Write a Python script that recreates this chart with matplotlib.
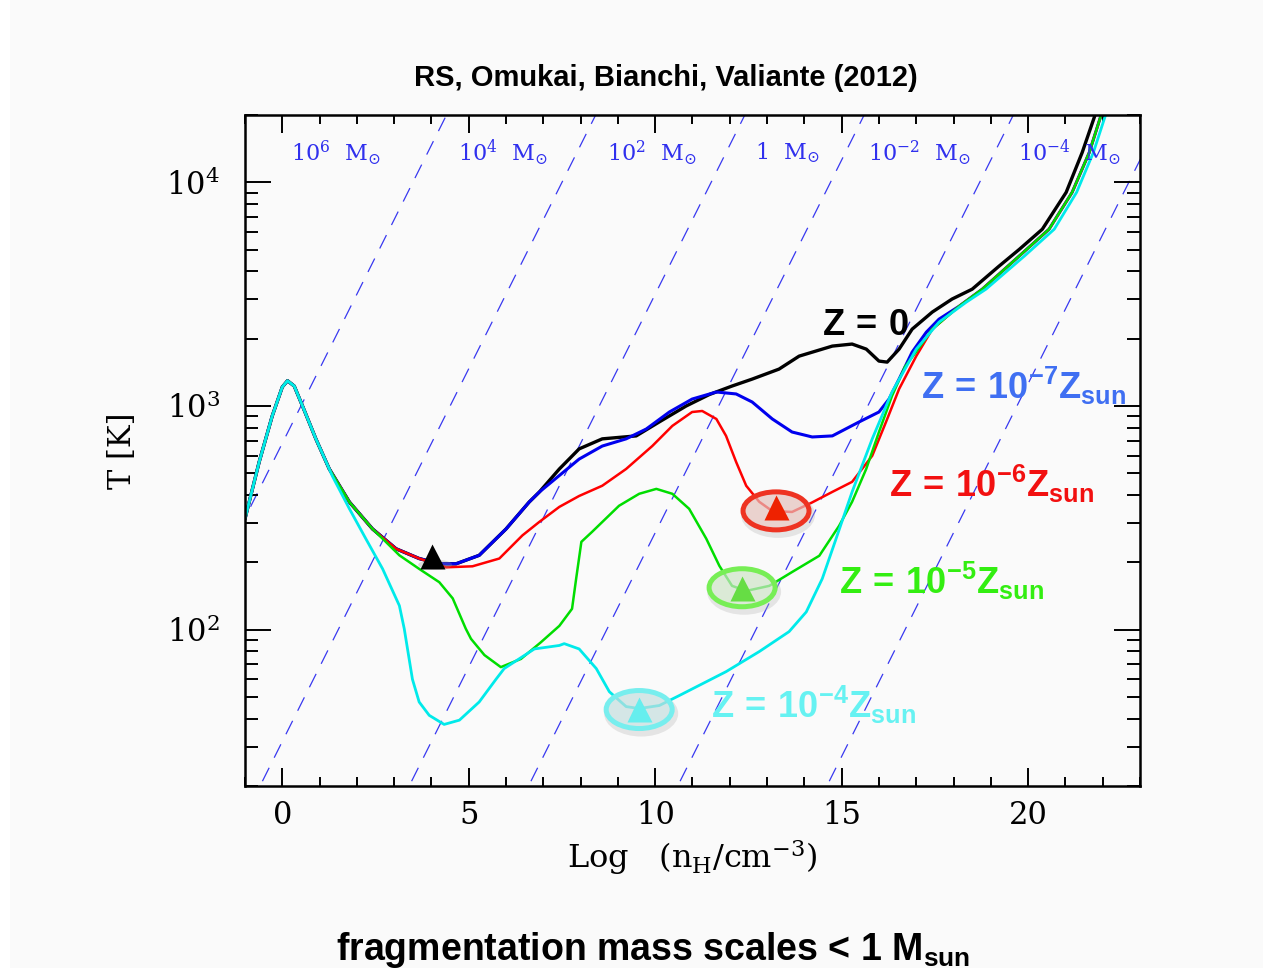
import numpy as np
import matplotlib
matplotlib.use('Agg')
import matplotlib.pyplot as plt
from matplotlib.patches import Ellipse, Rectangle
from matplotlib import transforms
from matplotlib.ticker import MultipleLocator, LogLocator, NullFormatter

# ---------------- data ----------------
# shared early part of all tracks: log n_H and T [K]
shared_logn = [-1.0, -0.62, -0.27, 0.0, 0.14, 0.32, 0.54, 0.90, 1.26]
shared_T = [313, 562, 902, 1216, 1297, 1228, 1002, 713, 523]

# branch followed by Z=0, 1e-7, 1e-6 down to the first minimum
main_logn = [1.80, 2.42, 3.05, 3.67]
main_T = [372, 282, 230, 208]

# Z = 0 (black)
z0_logn = [4.21, 4.66, 5.28, 6.0, 6.62, 6.89, 7.43, 7.96, 8.58, 9.49, 10.11, 10.83, 11.45,
           12.06, 12.6, 13.32, 13.86, 14.75, 15.28, 15.66, 16.0, 16.22, 16.54, 16.89, 17.43,
           17.96, 18.5, 19.22, 19.76, 20.38, 21.02, 21.45, 21.82]
z0_T = [197, 197, 215, 282, 372, 412, 523, 643, 713, 735, 849, 1000, 1125,
        1228, 1319, 1462, 1671, 1853, 1892, 1796, 1588, 1571, 1796, 2206, 2630,
        3007, 3329, 4220, 5010, 6170, 9020, 13600, 20560]

# Z = 1e-7 Zsun (blue)
z7_logn = [4.21, 4.66, 5.28, 6.0, 6.62, 6.89, 7.43, 7.96, 8.58, 9.22, 9.76, 10.38, 10.99,
           11.64, 12.17, 12.6, 13.14, 13.67, 14.21, 14.75, 15.47, 16.0, 16.27, 16.54, 16.89,
           17.27, 17.61, 18.15, 18.77, 19.76, 20.56, 21.18, 21.64, 21.98]
z7_T = [197, 197, 215, 282, 372, 412, 489, 579, 662, 713, 789, 940, 1074,
        1155, 1132, 1042, 875, 765, 727, 735, 849, 940, 1074, 1319, 1742,
        2138, 2445, 2793, 3329, 4680, 6170, 9020, 13600, 20560]

# Z = 1e-6 Zsun (red)
z6_logn = [4.39, 5.10, 5.82, 6.44, 6.89, 7.43, 7.96, 8.58, 9.22, 9.92, 10.46, 10.99, 11.26,
           11.64, 11.9, 12.17, 12.44, 12.79, 13.14, 13.67, 14.2, 14.75, 15.28, 15.82, 16.19,
           16.54, 17.0, 17.43, 18.15, 18.77, 19.76, 20.56, 21.18, 21.64, 21.98]
z6_T = [190, 192, 208, 264, 303, 354, 396, 440, 523, 662, 815, 940, 950,
        875, 735, 562, 440, 373, 339, 336, 370, 413, 458, 599, 849,
        1191, 1671, 2206, 2793, 3329, 4680, 6170, 9020, 13600, 20560]

# Z = 1e-5 Zsun (green)
z5_logn = [1.80, 2.42, 2.6, 3.14, 3.67, 4.21, 4.57, 4.92, 5.06, 5.42, 5.86, 6.4, 6.94, 7.43,
           7.77, 7.88, 8.02, 8.31, 9.03, 9.57, 10.03, 10.46, 10.91, 11.37, 11.72, 12.06,
           12.44, 13.06, 13.67, 14.4, 14.93, 15.28, 15.66, 16.0, 16.35, 16.7, 17.0, 17.43,
           18.15, 18.77, 19.76, 20.56, 21.18, 21.64, 21.98]
z5_T = [372, 282, 264, 215, 187, 163, 138, 101, 91, 77, 68, 74, 88, 104,
        124, 169, 247, 274, 358, 405, 426, 405, 347, 255, 193, 157,
        149, 157, 181, 214, 291, 373, 524, 765, 1109, 1500, 1750, 2206,
        2793, 3329, 4680, 6170, 9020, 13600, 20560]

# Z = 1e-4 Zsun (cyan)
z4_logn = [1.34, 1.80, 2.24, 2.69, 3.14, 3.27, 3.49, 3.67, 3.94, 4.34, 4.75, 5.28, 5.73, 5.95,
           6.76, 7.43, 7.56, 7.96, 8.42, 8.77, 9.22, 9.57, 10.11, 10.64, 11.9, 12.79, 13.59,
           14.05, 14.48, 14.85, 15.28, 15.82, 16.35, 17.0, 17.61, 18.34, 18.87, 19.9, 20.7,
           21.3, 21.75, 22.1]
z4_T = [487, 347, 255, 187, 128, 101, 60, 47.5, 41.4, 37.7, 39.4, 47.5, 60, 67,
        82, 85, 86.6, 82, 67, 52.8, 45.3, 44.4, 45.8, 50.7, 64.9, 79.8, 98,
        120, 169, 255, 413, 713, 1155, 1796, 2371, 2911, 3329, 4680, 6170,
        9020, 13600, 20560]

# fragmentation markers (log n, T)
frag_logn = [4.02, 13.24, 12.33, 9.57]
frag_T = [214, 354, 154, 44.4]
frag_ring = [False, True, True, True]

# constant Jeans-mass lines: log n where each line crosses T = 100 K
jeans_logn_at_100K = [-2.5, 1.5, 5.5, 8.7, 12.7, 16.7]
jeans_labels = [r'$10^{6}\ \ \mathrm{M}_{\odot}$', r'$10^{4}\ \ \mathrm{M}_{\odot}$',
                r'$10^{2}\ \ \mathrm{M}_{\odot}$', r'$1\ \ \mathrm{M}_{\odot}$',
                r'$10^{-2}\ \ \mathrm{M}_{\odot}$', r'$10^{-4}\ \ \mathrm{M}_{\odot}$']
jeans_label_logn = [1.42, 5.91, 9.91, 13.53, 17.08, 21.1]

track_labels = [r'$\mathbf{Z\,=\,0}$', r'$\mathbf{Z\,=\,10^{-7}Z_{sun}}$',
                r'$\mathbf{Z\,=\,10^{-6}Z_{sun}}$', r'$\mathbf{Z\,=\,10^{-5}Z_{sun}}$',
                r'$\mathbf{Z\,=\,10^{-4}Z_{sun}}$']
track_label_logn = [14.48, 17.13, 16.27, 14.93, 11.5]
track_label_T = [2075, 1074, 393, 145, 40.1]

# ---------------- styling ----------------
plt.rcParams['font.family'] = ['DejaVu Serif']
plt.rcParams['mathtext.fontset'] = 'dejavuserif'
for k in ('rm', 'it', 'bf', 'sf'):
    plt.rcParams['mathtext.' + k] = 'Liberation Sans:bold'

fig = plt.figure(figsize=(12.63, 9.68), dpi=100, facecolor='#fafafa')
fig.patches.append(Rectangle((0, 0), 10 / 1263, 1, transform=fig.transFigure,
                             facecolor='white', edgecolor='none', zorder=0))
ax = fig.add_axes([245 / 1263, 1 - 786 / 968, 895 / 1263, 671 / 968])
ax.set_facecolor('#fafafa')
ax.set_yscale('log')
ax.set_xlim(-1, 23)
ax.set_ylim(20, 2e4)

# Jeans lines
nn = np.array([-4.0, 26.0])
for x100 in jeans_logn_at_100K:
    ax.plot(nn, 10 ** (2 + (nn - x100) / 3.0), color='#3838f0', lw=0.9,
            ls=(0, (12, 9)), zorder=1)
for lab, xl in zip(jeans_labels, jeans_label_logn):
    ax.text(xl, 13600, lab, color='#3030ee', fontsize=16, ha='center', va='center',
            zorder=3)

def track(a_n, a_T, *parts):
    n = list(a_n); T = list(a_T)
    for pn, pT in parts:
        n += list(pn); T += list(pT)
    return n, T

tracks = [
    (track(shared_logn, shared_T, (main_logn, main_T), (z0_logn, z0_T)), '#000000', 2.4),
    (track(shared_logn, shared_T, (main_logn, main_T), (z7_logn, z7_T)), '#0000ee', 2.2),
    (track(shared_logn, shared_T, (main_logn, main_T), (z6_logn, z6_T)), '#ff0000', 1.8),
    (track(shared_logn, shared_T, (z5_logn, z5_T)), '#00dd00', 1.8),
    (track(shared_logn, shared_T, (z4_logn, z4_T)), '#00eaea', 2.0),
]
for (n, T), c, lw in tracks:
    ax.plot(n, T, color=c, lw=lw, solid_joinstyle='round', solid_capstyle='round', zorder=2)

# rings + triangles
ring_edge = [None, '#ee3322', '#77ee55', '#77eeee']
ring_fill = [None, '#f0c4bc', '#d4f0cc', '#c8e8e8']
ring_dy = [0, -0.04, 0, -0.01]
tri_col = ['#000000', '#ee2200', '#66dd44', '#66eeee']
for xn, T, ring, ec, fc, tc, dy in zip(frag_logn, frag_T, frag_ring, ring_edge, ring_fill,
                                       tri_col, ring_dy):
    base = transforms.ScaledTranslation(xn, T, ax.transData)
    if ring:
        sh = fig.dpi_scale_trans + transforms.ScaledTranslation(0.02, -0.04, fig.dpi_scale_trans) + base
        ax.add_patch(Ellipse((0, dy), 0.74, 0.46, transform=sh, facecolor='#bbbbbb',
                             edgecolor='none', alpha=0.35, zorder=3))
        tr = fig.dpi_scale_trans + base
        ax.add_patch(Ellipse((0, dy), 0.66, 0.38, transform=tr, facecolor=fc,
                             edgecolor='none', alpha=0.55, zorder=3.1))
        ax.add_patch(Ellipse((0, dy), 0.66, 0.38, transform=tr, facecolor='none',
                             edgecolor=ec, lw=3.6, zorder=3.2))
    else:
        sh = fig.dpi_scale_trans + transforms.ScaledTranslation(0.03, -0.09, fig.dpi_scale_trans) + base
        ax.add_patch(Ellipse((0, 0), 0.34, 0.1, transform=sh, facecolor='#999999',
                             edgecolor='none', alpha=0.3, zorder=3))
    ax.plot([xn], [T], marker='^', ms=18, color=tc, mec='none', zorder=4)

label_cols = ['#000000', '#3f6ff2', '#f21010', '#33ee11', '#66f2f2']
for lab, xl, yl, c in zip(track_labels, track_label_logn, track_label_T, label_cols):
    t = ax.text(xl, yl, lab, color=c, fontsize=26, ha='left', va='baseline', zorder=5)
    t.set_math_fontfamily('custom')

# axes styling
for s in ax.spines.values():
    s.set_linewidth(1.8)
ax.xaxis.set_major_locator(MultipleLocator(5))
ax.xaxis.set_minor_locator(MultipleLocator(1))
ax.yaxis.set_major_locator(LogLocator(base=10, numticks=10))
ax.yaxis.set_minor_locator(LogLocator(base=10, subs=np.arange(2, 10), numticks=20))
ax.yaxis.set_minor_formatter(NullFormatter())
ax.tick_params(axis='both', which='both', direction='in', top=True, right=True, width=1.4)
ax.tick_params(axis='x', which='major', length=13, labelsize=22, pad=10)
ax.tick_params(axis='x', which='minor', length=6.5)
ax.tick_params(axis='y', which='major', length=19, labelsize=22, pad=18)
ax.tick_params(axis='y', which='minor', length=9.5)

ax.set_xlabel(r'Log   (n$_{\rm H}$/cm$^{-3}$)', fontsize=23)
ax.xaxis.set_label_coords(0.5, -0.078)
ax.set_ylabel('T [K]', fontsize=22)
ax.yaxis.set_label_coords(-0.12, 0.5)

fig.text(666 / 1263, 1 - 78 / 968, 'RS, Omukai, Bianchi, Valiante (2012)',
         family='Liberation Sans', weight='bold', fontsize=21, ha='center', va='center')
bt = fig.text(336 / 1263, 1 - 960 / 968, r'fragmentation mass scales < 1 M$_{\mathbf{sun}}$',
              family='Liberation Sans', weight='bold', fontsize=27, ha='left', va='baseline')
bt.set_math_fontfamily('custom')

fig.savefig('out.png', dpi=100, facecolor=fig.get_facecolor())
